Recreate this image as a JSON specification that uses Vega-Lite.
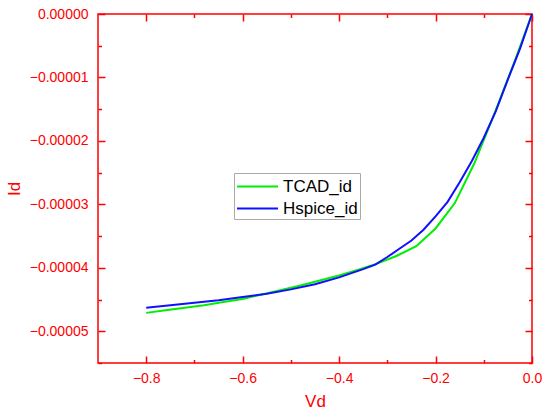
{
  "$schema": "https://vega.github.io/schema/vega-lite/v6.json",
  "width": 434,
  "height": 349,
  "autosize": {"type": "none"},
  "padding": {"left": 98, "top": 14, "right": 18, "bottom": 57},
  "background": "white",
  "config": {
    "view": {"stroke": "#ff0000", "strokeWidth": 1.5},
    "font": "Liberation Sans",
    "axis": {
      "grid": false,
      "domain": false,
      "tickColor": "#ff0000",
      "tickWidth": 1.5,
      "labelColor": "#ff0000",
      "titleColor": "#ff0000",
      "labelFont": "Liberation Sans",
      "titleFont": "Liberation Sans",
      "labelFontSize": 14,
      "titleFontSize": 17,
      "titleFontWeight": "normal",
      "labelFlush": false,
      "labelOverlap": false
    }
  },
  "data": {
    "values": [
      {"Vd": -0.80, "Id": -4.71e-5, "series": "TCAD_id"},
      {"Vd": -0.76, "Id": -4.67e-5, "series": "TCAD_id"},
      {"Vd": -0.72, "Id": -4.63e-5, "series": "TCAD_id"},
      {"Vd": -0.68, "Id": -4.59e-5, "series": "TCAD_id"},
      {"Vd": -0.64, "Id": -4.54e-5, "series": "TCAD_id"},
      {"Vd": -0.60, "Id": -4.49e-5, "series": "TCAD_id"},
      {"Vd": -0.56, "Id": -4.42e-5, "series": "TCAD_id"},
      {"Vd": -0.52, "Id": -4.35e-5, "series": "TCAD_id"},
      {"Vd": -0.48, "Id": -4.28e-5, "series": "TCAD_id"},
      {"Vd": -0.44, "Id": -4.20e-5, "series": "TCAD_id"},
      {"Vd": -0.40, "Id": -4.12e-5, "series": "TCAD_id"},
      {"Vd": -0.36, "Id": -4.03e-5, "series": "TCAD_id"},
      {"Vd": -0.32, "Id": -3.93e-5, "series": "TCAD_id"},
      {"Vd": -0.28, "Id": -3.81e-5, "series": "TCAD_id"},
      {"Vd": -0.24, "Id": -3.66e-5, "series": "TCAD_id"},
      {"Vd": -0.20, "Id": -3.38e-5, "series": "TCAD_id"},
      {"Vd": -0.16, "Id": -2.98e-5, "series": "TCAD_id"},
      {"Vd": -0.12, "Id": -2.36e-5, "series": "TCAD_id"},
      {"Vd": -0.08, "Id": -1.61e-5, "series": "TCAD_id"},
      {"Vd": -0.04, "Id": -0.83e-5, "series": "TCAD_id"},
      {"Vd": 0.00, "Id": 0, "series": "TCAD_id"},
      {"Vd": -0.80, "Id": -4.63e-5, "series": "Hspice_id"},
      {"Vd": -0.75, "Id": -4.59e-5, "series": "Hspice_id"},
      {"Vd": -0.70, "Id": -4.55e-5, "series": "Hspice_id"},
      {"Vd": -0.65, "Id": -4.51e-5, "series": "Hspice_id"},
      {"Vd": -0.60, "Id": -4.46e-5, "series": "Hspice_id"},
      {"Vd": -0.55, "Id": -4.41e-5, "series": "Hspice_id"},
      {"Vd": -0.50, "Id": -4.34e-5, "series": "Hspice_id"},
      {"Vd": -0.45, "Id": -4.26e-5, "series": "Hspice_id"},
      {"Vd": -0.40, "Id": -4.15e-5, "series": "Hspice_id"},
      {"Vd": -0.35, "Id": -4.02e-5, "series": "Hspice_id"},
      {"Vd": -0.325, "Id": -3.95e-5, "series": "Hspice_id"},
      {"Vd": -0.30, "Id": -3.83e-5, "series": "Hspice_id"},
      {"Vd": -0.275, "Id": -3.70e-5, "series": "Hspice_id"},
      {"Vd": -0.25, "Id": -3.57e-5, "series": "Hspice_id"},
      {"Vd": -0.225, "Id": -3.40e-5, "series": "Hspice_id"},
      {"Vd": -0.20, "Id": -3.19e-5, "series": "Hspice_id"},
      {"Vd": -0.175, "Id": -2.96e-5, "series": "Hspice_id"},
      {"Vd": -0.15, "Id": -2.65e-5, "series": "Hspice_id"},
      {"Vd": -0.125, "Id": -2.32e-5, "series": "Hspice_id"},
      {"Vd": -0.10, "Id": -1.95e-5, "series": "Hspice_id"},
      {"Vd": -0.075, "Id": -1.53e-5, "series": "Hspice_id"},
      {"Vd": -0.05, "Id": -1.03e-5, "series": "Hspice_id"},
      {"Vd": -0.025, "Id": -0.55e-5, "series": "Hspice_id"},
      {"Vd": 0.00, "Id": 0, "series": "Hspice_id"}
    ]
  },
  "layer": [
    {
      "mark": {"type": "line", "strokeWidth": 2},
      "encoding": {
        "x": {
          "field": "Vd", "type": "quantitative",
          "scale": {"domain": [-0.9, 0], "nice": false, "zero": false},
          "axis": {
            "orient": "bottom", "title": "Vd",
            "values": [-0.8, -0.6, -0.4, -0.2, 0],
            "format": ".1f",
            "ticks": false,
            "tickSize": 0,
            "labelPadding": 8,
            "titlePadding": 8
          }
        },
        "y": {
          "field": "Id", "type": "quantitative",
          "scale": {"domain": [-0.000055, 0], "nice": false, "zero": false},
          "axis": {
            "orient": "left", "title": "Id",
            "values": [0, -0.00001, -0.00002, -0.00003, -0.00004, -0.00005],
            "format": ".5f",
            "ticks": false,
            "tickSize": 0,
            "labelPadding": 10,
            "titlePadding": 6
          }
        },
        "color": {
          "field": "series", "type": "nominal",
          "scale": {"domain": ["TCAD_id", "Hspice_id"], "range": ["#00ee00", "#1010ff"]},
          "legend": {
            "title": null,
            "orient": "none",
            "legendX": 136,
            "legendY": 159,
            "direction": "vertical",
            "strokeColor": "#aaaaaa",
            "fillColor": "white",
            "padding": 2,
            "symbolType": "M-2,0L2,0",
            "symbolSize": 420,
            "symbolStrokeWidth": 2,
            "symbolOffset": 10,
            "labelFont": "Liberation Sans",
            "labelFontSize": 17,
            "labelColor": "black",
            "labelOffset": 14,
            "rowPadding": 2
          }
        }
      }
    },
    {
      "mark": {"type": "line", "strokeOpacity": 0},
      "encoding": {
        "x": {
          "field": "Vd", "type": "quantitative",
          "axis": {
            "orient": "bottom", "title": null, "labels": false,
            "values": [-0.8, -0.6, -0.4, -0.2, 0],
            "tickSize": -7
          }
        },
        "y": {
          "field": "Id", "type": "quantitative",
          "axis": {
            "orient": "left", "title": null, "labels": false,
            "values": [0, -0.00001, -0.00002, -0.00003, -0.00004, -0.00005],
            "tickSize": -7
          }
        },
        "detail": {"field": "series", "type": "nominal"}
      }
    },
    {
      "mark": {"type": "line", "strokeOpacity": 0},
      "encoding": {
        "x": {
          "field": "Vd", "type": "quantitative",
          "axis": {
            "orient": "top", "title": null, "labels": false,
            "values": [-0.8, -0.6, -0.4, -0.2, 0],
            "tickSize": -7
          }
        },
        "y": {
          "field": "Id", "type": "quantitative",
          "axis": {
            "orient": "right", "title": null, "labels": false,
            "values": [0, -0.00001, -0.00002, -0.00003, -0.00004, -0.00005],
            "tickSize": -7
          }
        },
        "detail": {"field": "series", "type": "nominal"}
      }
    },
    {
      "mark": {"type": "line", "strokeOpacity": 0},
      "encoding": {
        "x": {
          "field": "Vd", "type": "quantitative",
          "axis": {
            "orient": "bottom", "title": null, "labels": false,
            "values": [-0.7, -0.5, -0.3, -0.1],
            "tickSize": -3.5
          }
        },
        "y": {
          "field": "Id", "type": "quantitative",
          "axis": {
            "orient": "left", "title": null, "labels": false,
            "values": [-0.000005, -0.000015, -0.000025, -0.000035, -0.000045, -0.000055],
            "tickSize": -3.5
          }
        },
        "detail": {"field": "series", "type": "nominal"}
      }
    },
    {
      "mark": {"type": "line", "strokeOpacity": 0},
      "encoding": {
        "x": {
          "field": "Vd", "type": "quantitative",
          "axis": {
            "orient": "top", "title": null, "labels": false,
            "values": [-0.7, -0.5, -0.3, -0.1],
            "tickSize": -3.5
          }
        },
        "y": {
          "field": "Id", "type": "quantitative",
          "axis": {
            "orient": "right", "title": null, "labels": false,
            "values": [-0.000005, -0.000015, -0.000025, -0.000035, -0.000045, -0.000055],
            "tickSize": -3.5
          }
        },
        "detail": {"field": "series", "type": "nominal"}
      }
    }
  ],
  "resolve": {"axis": {"x": "independent", "y": "independent"}}
}
